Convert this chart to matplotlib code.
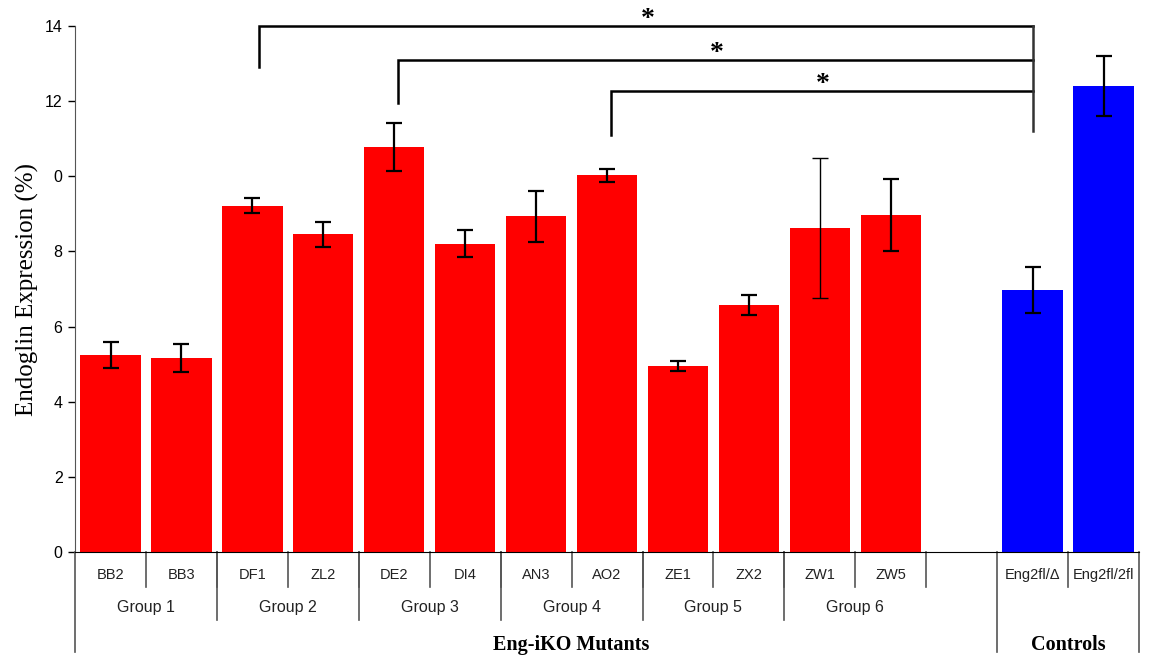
import numpy as np
import matplotlib
matplotlib.use("Agg")
import matplotlib.pyplot as plt

# 各サンプルの値 (読み取り)
samples = ["BB2", "BB3", "DF1", "ZL2", "DE2", "DI4", "AN3", "AO2",
           "ZE1", "ZX2", "ZW1", "ZW5", "", "Eng2fl/\u0394", "Eng2fl/2fl"]
values = [5.25, 5.16, 9.21, 8.46, 10.78, 8.2, 8.94, 10.03,
          4.95, 6.57, 8.62, 8.97, 0, 6.97, 12.4]
errors = [0.35, 0.38, 0.2, 0.33, 0.63, 0.36, 0.68, 0.17,
          0.13, 0.27, 1.86, 0.96, 0, 0.62, 0.8]
colors = ["red"] * 12 + ["none", "blue", "blue"]

groups = ["Group 1", "Group 2", "Group 3", "Group 4", "Group 5", "Group 6"]
group_bounds = [(0, 2), (2, 4), (4, 6), (6, 8), (8, 10), (10, 12)]

ytick_vals = [0, 2, 4, 6, 8, 10, 12, 14]
ytick_labels = ["0", "2", "4", "6", "8", "0", "12", "14"]

# 有意差の括弧: (左端のx, 左脚の下端, 横線の高さ)
brackets = [(2.1, 12.9, 14.0), (4.05, 11.95, 13.1), (7.05, 11.1, 12.27)]
bracket_right = 13.0
bracket_right_bottom = 11.2


def main():
    fig = plt.figure(figsize=(11.51, 6.59), dpi=100)
    ax = fig.add_axes([0.0652, 0.1624, 0.9244, 0.7981])

    n = len(samples)
    x = np.arange(n)
    for i in range(n):
        if samples[i] == "":
            continue
        ax.bar(x[i], values[i], width=0.85, color=colors[i])
        lw = 1.0 if samples[i] == "ZW1" else 1.6
        ax.errorbar(x[i], values[i], yerr=errors[i], fmt="none",
                    ecolor="black", elinewidth=lw, capsize=6, capthick=lw)

    ax.set_xlim(-0.5, n - 0.5)
    ax.set_ylim(0, 14)
    ax.set_yticks(ytick_vals)
    ax.set_yticklabels(ytick_labels, family="Liberation Sans", fontsize=11.5)
    ax.tick_params(axis="y", length=5, width=1, pad=4)
    ax.set_xticks([])
    ax.spines["top"].set_visible(False)
    ax.spines["right"].set_visible(False)
    ax.spines["left"].set_color("#555555")
    ax.spines["bottom"].set_color("black")
    ax.set_ylabel("Endoglin Expression (%)", family="Liberation Serif",
                  fontsize=18, labelpad=4)

    # 括弧と星印
    for left, leg, top in brackets:
        ax.plot([left, left, bracket_right], [leg, top, top],
                color="black", lw=1.8, clip_on=False, solid_joinstyle="miter")
        ax.text((left + bracket_right) / 2 + 0.02, top - 0.17, "*",
                ha="center", va="bottom", fontsize=20, fontweight="bold",
                family="Liberation Serif")
    ax.plot([bracket_right, bracket_right],
            [bracket_right_bottom, brackets[0][2]],
            color="#333333", lw=1.8, clip_on=False)

    # 下の表 (カテゴリ・グループ)
    trans = ax.get_xaxis_transform()
    y1, y2, y3 = -0.0665, -0.129, -0.19
    for i in range(n):
        if samples[i] != "":
            ax.text(x[i], -0.044, samples[i], transform=trans, ha="center",
                    va="center", fontsize=10.5, family="Liberation Sans",
                    color="#222222")
    for b in range(1, 13):
        ax.plot([b - 0.5, b - 0.5], [0, y1], transform=trans,
                color="#555555", lw=1.2, clip_on=False)
    for gname, (a, b) in zip(groups, group_bounds):
        ax.text((a + b - 1) / 2, -0.106, gname, transform=trans,
                ha="center", va="center", fontsize=11.5,
                family="Liberation Sans", color="#222222")
    for b in [2, 4, 6, 8, 10]:
        ax.plot([b - 0.5, b - 0.5], [0, y2], transform=trans,
                color="#555555", lw=1.2, clip_on=False)
    ax.plot([13.5, 13.5], [0, y1], transform=trans,
            color="#555555", lw=1.2, clip_on=False)
    for b in [-0.5, 12.5, 14.5]:
        ax.plot([b, b], [0, y3], transform=trans,
                color="#555555", lw=1.2, clip_on=False)
    ax.text(6.5, -0.196, "Eng-iKO Mutants", transform=trans, ha="center",
            va="bottom", fontsize=14.5, fontweight="bold",
            family="Liberation Serif")
    ax.text(13.5, -0.196, "Controls", transform=trans, ha="center",
            va="bottom", fontsize=14.5, fontweight="bold",
            family="Liberation Serif")

    fig.savefig("out.png", dpi=100)


if __name__ == "__main__":
    main()
